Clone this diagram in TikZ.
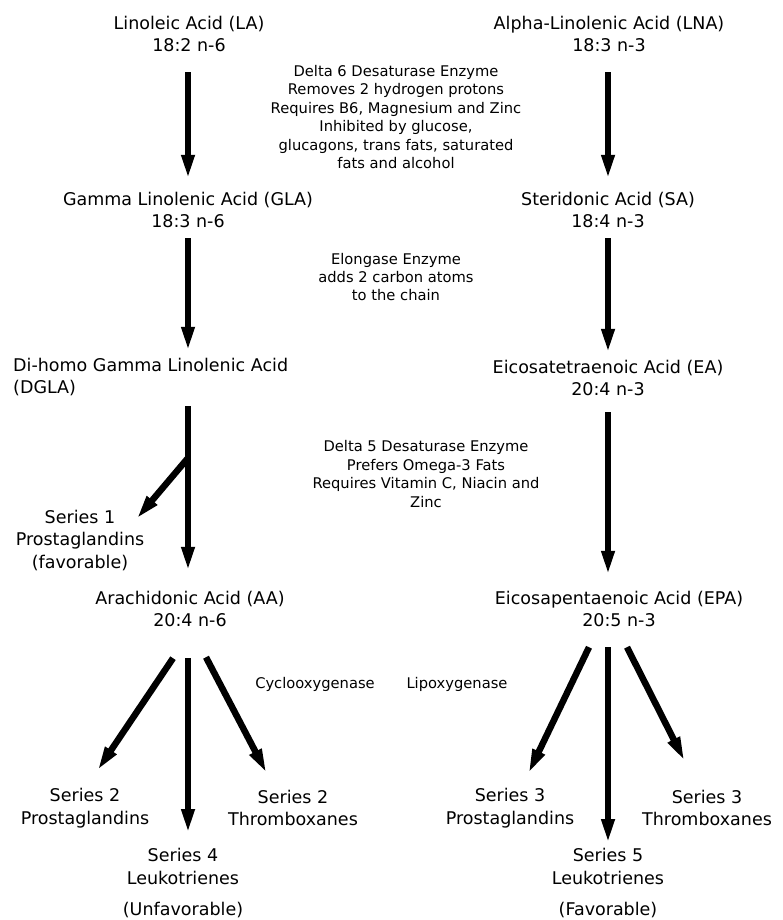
\documentclass[tikz,border=0pt]{standalone}
\usepackage{fontspec}
\setmainfont{DejaVu Sans}
\usetikzlibrary{arrows.meta,positioning}

\tikzset{
  acid/.style={align=center, inner sep=0pt, font=\fontsize{17.5}{22.5}\selectfont},
  enzyme/.style={align=center, inner sep=0pt, font=\fontsize{14.7}{18.4}\selectfont},
  fat/.style={line width=6.5pt, -{Triangle[length=25pt,width=12pt]}},
}

\begin{document}
\begin{tikzpicture}[x=1pt,y=-1pt]
\useasboundingbox[fill=white] (0,0) rectangle (783,920);

% omega-6 column
\node[acid] (la) at (189,34) {Linoleic Acid (LA)\\18:2 n-6};
\node[acid] (gla) at (188,210) {Gamma Linolenic Acid (GLA)\\18:3 n-6};
\node[acid, align=left, anchor=west] (dgla) at (13,377) {Di-homo Gamma Linolenic Acid\\(DGLA)};
\node[acid] (s1) at (80,540) {Series 1\\Prostaglandins\\(favorable)};
\node[acid] (aa) at (190,609) {Arachidonic Acid (AA)\\20:4 n-6};
\node[acid] (s2p) at (85,808) {Series 2\\Prostaglandins};
\node[acid] (s2t) at (293,808) {Series 2\\Thromboxanes};
\node[acid] (s4) at (183,883) {Series 4\\Leukotrienes\\[9pt](Unfavorable)};

% omega-3 column
\node[acid] (lna) at (609,34) {Alpha-Linolenic Acid (LNA)\\18:3 n-3};
\node[acid] (sa) at (608,210) {Steridonic Acid (SA)\\18:4 n-3};
\node[acid] (ea) at (608,378) {Eicosatetraenoic Acid (EA)\\20:4 n-3};
\node[acid] (epa) at (619,609) {Eicosapentaenoic Acid (EPA)\\20:5 n-3};
\node[acid] (s3p) at (510,808) {Series 3\\Prostaglandins};
\node[acid] (s3t) at (707,808) {Series 3\\Thromboxanes};
\node[acid] (s5) at (608,883) {Series 5\\Leukotrienes\\[9pt](Favorable)};

% enzymes
\node[enzyme] (d6) at (396,117) {Delta 6 Desaturase Enzyme\\Removes 2 hydrogen protons\\Requires B6, Magnesium and Zinc\\Inhibited by glucose,\\glucagons, trans fats, saturated\\fats and alcohol};
\node[enzyme] (elo) at (396,277) {Elongase Enzyme\\adds 2 carbon atoms\\to the chain};
\node[enzyme] (d5) at (426,474) {Delta 5 Desaturase Enzyme\\Prefers Omega-3 Fats\\Requires Vitamin C, Niacin and\\Zinc};
\node[enzyme] (cox) at (315,684) {Cyclooxygenase};
\node[enzyme] (lox) at (457,684) {Lipoxygenase};

% conversions
\draw[fat, shorten <=20pt, shorten >=12pt] (la.south -| gla) -- (gla);
\draw[fat, shorten <=20pt, shorten >=12pt] (lna.south -| sa) -- (sa);
\draw[fat, shorten <=10pt, shorten >=6pt] (gla) -- (gla |- dgla.north);
\draw[fat, shorten <=10pt, shorten >=6pt] (sa) -- (ea);
\draw[fat, shorten <=10pt, shorten >=19pt] (gla |- dgla.south) -- (gla |- aa.north);
\draw[fat, shorten <=16pt, shorten >=15pt] (ea) -- (epa.north -| ea);

% branch to series 1
\coordinate (br) at (188,458);
\draw[fat, shorten >=-13pt] (br) -- (s1.north east);

% eicosanoids
\draw[fat] ([xshift=-17pt,yshift=-31pt]aa.south) -- ([xshift=12pt,yshift=17pt]s2p.north);
\draw[fat, shorten <=31pt, shorten >=14pt] (aa.south -| br) -- (s4.north -| br);
\draw[fat] ([xshift=16pt,yshift=-30pt]aa.south) -- ([xshift=-26pt,yshift=16pt]s2t.north);
\draw[fat] ([xshift=-30pt,yshift=-20pt]epa.south) -- ([xshift=18pt,yshift=14pt]s3p.north);
\draw[fat, shorten <=20pt, shorten >=4pt] (epa.south -| ea) -- (s5.north -| ea);
\draw[fat] ([xshift=8pt,yshift=-20pt]epa.south) -- ([xshift=-22pt,yshift=28pt]s3t.north);
\end{tikzpicture}
\end{document}
